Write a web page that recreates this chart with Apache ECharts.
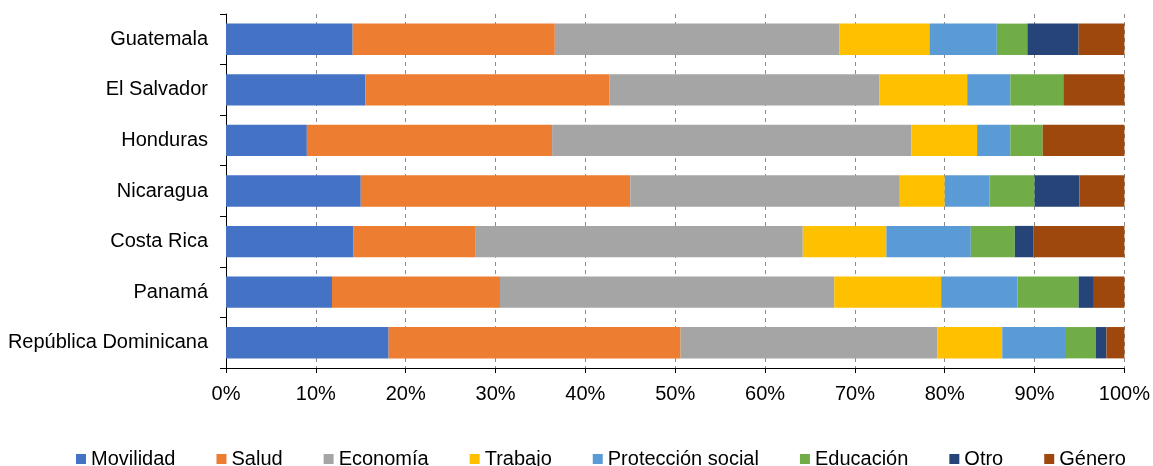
<!DOCTYPE html>
<html><head><meta charset="utf-8">
<script src="https://cdn.jsdelivr.net/npm/echarts@6/dist/echarts.min.js"></script>
<style>html,body{margin:0;padding:0;background:#fff}#c{width:1153px;height:466px}</style>
</head><body><div id="c"></div>
<script>
const categories = ["Guatemala","El Salvador","Honduras","Nicaragua","Costa Rica","Panamá","República Dominicana"];
const xTicks = [0,10,20,30,40,50,60,70,80,90,100];
const movilidad  = [14.1, 15.5,  9.0, 15.0, 14.2, 11.8, 18.1];
const salud      = [22.5, 27.2, 27.3, 30.0, 13.6, 18.7, 32.5];
const economia   = [31.7, 30.0, 40.0, 30.0, 36.4, 37.2, 28.6];
const trabajo    = [10.0,  9.8,  7.3,  5.0,  9.3, 11.9,  7.2];
const proteccion = [ 7.5,  4.8,  3.7,  5.0,  9.4,  8.5,  7.1];
const educacion  = [ 3.4,  5.9,  3.6,  5.0,  4.9,  6.8,  3.3];
const otro       = [ 5.7,  0.0,  0.0,  5.0,  2.1,  1.7,  1.2];
const genero     = [ 5.1,  6.8,  9.1,  5.0, 10.1,  3.4,  2.0];

const seriesDefs = [
  ["Movilidad", movilidad, "#4472C4"],
  ["Salud", salud, "#ED7D31"],
  ["Economía", economia, "#A5A5A5"],
  ["Trabajo", trabajo, "#FFC000"],
  ["Protección social", proteccion, "#5B9BD5"],
  ["Educación", educacion, "#70AD47"],
  ["Otro", otro, "#264478"],
  ["Género", genero, "#9E480E"]
];
const font = "'Liberation Sans', Arial, sans-serif";
const chart = echarts.init(document.getElementById('c'), null, {renderer:'canvas'});
chart.setOption({
  animation:false,
  textStyle:{fontFamily:font},
  grid:{left:226, right:19, top:14, bottom:98, containLabel:false},
  legend:{
    top:444, left:71, itemWidth:10, itemHeight:10, itemGap:41, icon:'rect',
    textStyle:{fontFamily:font, fontSize:20, color:'#000', padding:[0,0,0,0]},
    data: seriesDefs.map(d=>d[0])
  },
  xAxis:{
    type:'value', min:xTicks[0], max:xTicks[xTicks.length-1], interval:xTicks[1]-xTicks[0],
    axisLine:{show:true, lineStyle:{color:'#000', width:1}},
    axisTick:{show:true, length:5, lineStyle:{color:'#000'}},
    axisLabel:{formatter:'{value}%', fontFamily:font, fontSize:20, color:'#000', margin:16},
    splitLine:{show:true, lineStyle:{color:'#8c8c8c', type:[4,4], width:1}}
  },
  yAxis:{
    type:'category', inverse:true, data:categories,
    axisLine:{show:true, lineStyle:{color:'#000', width:1}},
    axisTick:{show:true, length:6, lineStyle:{color:'#000'}},
    axisLabel:{fontFamily:font, fontSize:20, color:'#000', margin:18},
    splitLine:{show:false}
  },
  series: seriesDefs.map(d=>({
    name:d[0], type:'bar', stack:'total', data:d[1], barCategoryGap:'38%',
    itemStyle:{color:d[2]}
  }))
});
</script></body></html>
